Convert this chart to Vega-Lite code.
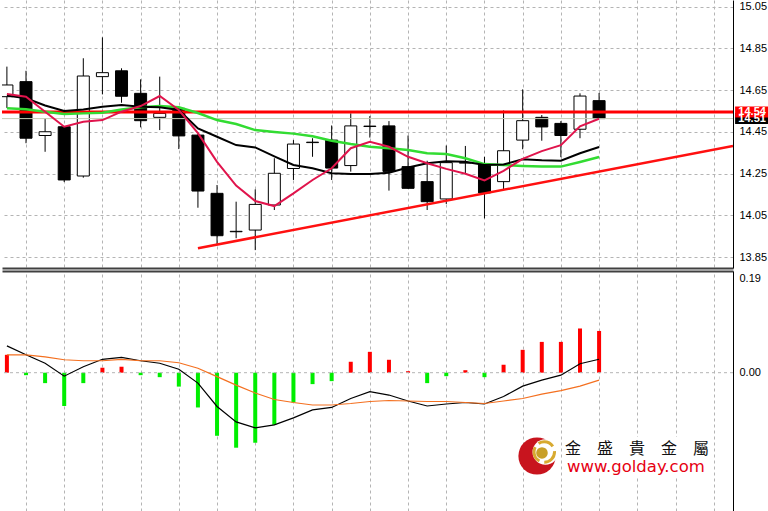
{
  "$schema": "https://vega.github.io/schema/vega-lite/v6.json",
  "padding": 0,
  "spacing": 3,
  "background": "white",
  "config": {
    "view": {"stroke": null},
    "axis": {"labelFont": "Liberation Sans", "labelFontSize": 11, "labelColor": "#000000", "domainColor": "#000000", "domainWidth": 1}
  },
  "datasets": {
    "candles": [
      {"i": 0, "o": 14.619, "h": 14.763, "l": 14.565, "c": 14.675, "ma5": 14.632, "ma10": 14.625, "ma20": 14.563, "macd": 0.054, "sig": 0.036, "hist": 0.036},
      {"i": 1, "o": 14.691, "h": 14.743, "l": 14.396, "c": 14.420, "ma5": 14.619, "ma10": 14.611, "ma20": 14.559, "macd": 0.036, "sig": 0.036, "hist": -0.005},
      {"i": 2, "o": 14.433, "h": 14.515, "l": 14.355, "c": 14.451, "ma5": 14.547, "ma10": 14.577, "ma20": 14.547, "macd": 0.019, "sig": 0.032, "hist": -0.021},
      {"i": 3, "o": 14.475, "h": 14.478, "l": 14.210, "c": 14.220, "ma5": 14.475, "ma10": 14.550, "ma20": 14.536, "macd": -0.007, "sig": 0.026, "hist": -0.067},
      {"i": 4, "o": 14.239, "h": 14.803, "l": 14.231, "c": 14.718, "ma5": 14.499, "ma10": 14.558, "ma20": 14.539, "macd": 0.012, "sig": 0.024, "hist": -0.021},
      {"i": 5, "o": 14.715, "h": 14.903, "l": 14.630, "c": 14.734, "ma5": 14.507, "ma10": 14.571, "ma20": 14.542, "macd": 0.027, "sig": 0.024, "hist": 0.010},
      {"i": 6, "o": 14.743, "h": 14.755, "l": 14.590, "c": 14.621, "ma5": 14.547, "ma10": 14.579, "ma20": 14.558, "macd": 0.031, "sig": 0.027, "hist": 0.012},
      {"i": 7, "o": 14.635, "h": 14.702, "l": 14.472, "c": 14.504, "ma5": 14.574, "ma10": 14.571, "ma20": 14.568, "macd": 0.024, "sig": 0.024, "hist": -0.005},
      {"i": 8, "o": 14.520, "h": 14.715, "l": 14.459, "c": 14.539, "ma5": 14.622, "ma10": 14.568, "ma20": 14.574, "macd": 0.019, "sig": 0.024, "hist": -0.009},
      {"i": 9, "o": 14.563, "h": 14.570, "l": 14.368, "c": 14.431, "ma5": 14.555, "ma10": 14.555, "ma20": 14.568, "macd": 0.007, "sig": 0.020, "hist": -0.028},
      {"i": 10, "o": 14.435, "h": 14.440, "l": 14.087, "c": 14.167, "ma5": 14.444, "ma10": 14.467, "ma20": 14.541, "macd": -0.021, "sig": 0.009, "hist": -0.070},
      {"i": 11, "o": 14.156, "h": 14.196, "l": 13.908, "c": 13.953, "ma5": 14.307, "ma10": 14.427, "ma20": 14.507, "macd": -0.068, "sig": -0.008, "hist": -0.127},
      {"i": 12, "o": 13.972, "h": 14.116, "l": 13.941, "c": 13.974, "ma5": 14.193, "ma10": 14.387, "ma20": 14.488, "macd": -0.099, "sig": -0.025, "hist": -0.151},
      {"i": 13, "o": 13.980, "h": 14.175, "l": 13.884, "c": 14.103, "ma5": 14.119, "ma10": 14.376, "ma20": 14.459, "macd": -0.111, "sig": -0.041, "hist": -0.141},
      {"i": 14, "o": 14.100, "h": 14.324, "l": 14.076, "c": 14.252, "ma5": 14.095, "ma10": 14.333, "ma20": 14.450, "macd": -0.105, "sig": -0.054, "hist": -0.105},
      {"i": 15, "o": 14.275, "h": 14.411, "l": 14.220, "c": 14.392, "ma5": 14.156, "ma10": 14.292, "ma20": 14.442, "macd": -0.091, "sig": -0.060, "hist": -0.060},
      {"i": 16, "o": 14.399, "h": 14.420, "l": 14.331, "c": 14.401, "ma5": 14.220, "ma10": 14.276, "ma20": 14.429, "macd": -0.075, "sig": -0.065, "hist": -0.023},
      {"i": 17, "o": 14.411, "h": 14.481, "l": 14.220, "c": 14.277, "ma5": 14.276, "ma10": 14.252, "ma20": 14.408, "macd": -0.070, "sig": -0.065, "hist": -0.017},
      {"i": 18, "o": 14.289, "h": 14.539, "l": 14.260, "c": 14.479, "ma5": 14.372, "ma10": 14.249, "ma20": 14.392, "macd": -0.052, "sig": -0.062, "hist": 0.022},
      {"i": 19, "o": 14.476, "h": 14.526, "l": 14.423, "c": 14.478, "ma5": 14.403, "ma10": 14.249, "ma20": 14.379, "macd": -0.038, "sig": -0.058, "hist": 0.042},
      {"i": 20, "o": 14.479, "h": 14.502, "l": 14.169, "c": 14.261, "ma5": 14.379, "ma10": 14.255, "ma20": 14.372, "macd": -0.045, "sig": -0.056, "hist": 0.026},
      {"i": 21, "o": 14.284, "h": 14.433, "l": 14.178, "c": 14.180, "ma5": 14.331, "ma10": 14.280, "ma20": 14.364, "macd": -0.057, "sig": -0.057, "hist": 0.003},
      {"i": 22, "o": 14.212, "h": 14.312, "l": 14.076, "c": 14.116, "ma5": 14.300, "ma10": 14.300, "ma20": 14.348, "macd": -0.067, "sig": -0.058, "hist": -0.021},
      {"i": 23, "o": 14.129, "h": 14.385, "l": 14.105, "c": 14.303, "ma5": 14.273, "ma10": 14.310, "ma20": 14.344, "macd": -0.063, "sig": -0.058, "hist": -0.007},
      {"i": 24, "o": 14.301, "h": 14.383, "l": 14.251, "c": 14.303, "ma5": 14.250, "ma10": 14.307, "ma20": 14.324, "macd": -0.060, "sig": -0.060, "hist": 0.005},
      {"i": 25, "o": 14.292, "h": 14.331, "l": 14.036, "c": 14.158, "ma5": 14.218, "ma10": 14.292, "ma20": 14.296, "macd": -0.063, "sig": -0.062, "hist": -0.009},
      {"i": 26, "o": 14.212, "h": 14.553, "l": 14.172, "c": 14.360, "ma5": 14.264, "ma10": 14.294, "ma20": 14.292, "macd": -0.048, "sig": -0.057, "hist": 0.016},
      {"i": 27, "o": 14.411, "h": 14.654, "l": 14.367, "c": 14.504, "ma5": 14.321, "ma10": 14.319, "ma20": 14.287, "macd": -0.027, "sig": -0.052, "hist": 0.046},
      {"i": 28, "o": 14.520, "h": 14.531, "l": 14.408, "c": 14.474, "ma5": 14.358, "ma10": 14.314, "ma20": 14.284, "macd": -0.015, "sig": -0.043, "hist": 0.062},
      {"i": 29, "o": 14.491, "h": 14.502, "l": 14.329, "c": 14.433, "ma5": 14.387, "ma10": 14.312, "ma20": 14.284, "macd": -0.005, "sig": -0.036, "hist": 0.062},
      {"i": 30, "o": 14.463, "h": 14.635, "l": 14.420, "c": 14.622, "ma5": 14.477, "ma10": 14.348, "ma20": 14.306, "macd": 0.018, "sig": -0.027, "hist": 0.089},
      {"i": 31, "o": 14.600, "h": 14.637, "l": 14.514, "c": 14.514, "ma5": 14.513, "ma10": 14.378, "ma20": 14.330, "macd": 0.027, "sig": -0.015, "hist": 0.084}
    ],
    "trend": [
      {"i": 10, "p": 13.893},
      {"i": 38.01, "p": 14.383}
    ],
    "tags": [
      {"label": "14.51", "price": 14.514},
      {"label": "14.54", "price": 14.546}
    ],
    "zero": [{"v": 0}],
    "brand": [{"name": "金　盛　貴　金　屬", "url": "www.golday.com"}]
  },
  "vconcat": [
    {
      "width": 731,
      "height": 268,
      "data": {"name": "candles"},
      "layer": [
        {
          "mark": {"type": "rule", "color": "#000000", "strokeWidth": 1, "clip": true},
          "encoding": {
            "x": {"field": "i", "type": "quantitative",
                  "scale": {"domain": [-0.2565, 38.01], "nice": false, "zero": false, "padding": 0},
                  "axis": {"orient": "bottom", "title": null, "values": [1,3,5,7,9,11,13,15,17,19,21,23,25,27,29,31,33,35,37],
                           "grid": true, "gridDash": [3,3], "gridColor": "#b4b4b4", "labels": false, "ticks": false,
                           "domain": true, "domainColor": "#404040", "domainWidth": 2}},
            "y": {"field": "l", "type": "quantitative",
                  "scale": {"domain": [13.7983, 15.0821], "nice": false, "zero": false, "padding": 0},
                  "axis": {"orient": "right", "title": null, "values": [13.85, 14.05, 14.25, 14.45, 14.65, 14.85, 15.05],
                           "format": ".2f", "grid": true, "gridDash": [3,3], "gridColor": "#b4b4b4",
                           "ticks": false, "labelPadding": 6}},
            "y2": {"field": "h"}
          }
        },
        {
          "mark": {"type": "bar", "width": 12, "stroke": "#000000", "strokeWidth": 1, "clip": true},
          "encoding": {
            "x": {"field": "i", "type": "quantitative"},
            "y": {"field": "o", "type": "quantitative"},
            "y2": {"field": "c"},
            "fill": {"condition": {"test": "datum.c >= datum.o", "value": "#ffffff"}, "value": "#000000"}
          }
        },
        {
          "data": {"name": "tags"},
          "mark": {"type": "rule"},
          "encoding": {
            "y": {"field": "price", "type": "quantitative"},
            "color": {"condition": {"test": "datum.label == '14.54'", "value": "#ff0000"}, "value": "#c4ccb4"},
            "strokeWidth": {"condition": {"test": "datum.label == '14.54'", "value": 3}, "value": 1}
          }
        },
        {
          "mark": {"type": "line", "color": "#32dc32", "strokeWidth": 2.5, "clip": true},
          "encoding": {
            "x": {"field": "i", "type": "quantitative"},
            "y": {"field": "ma20", "type": "quantitative"}
          }
        },
        {
          "mark": {"type": "line", "color": "#000000", "strokeWidth": 2, "clip": true},
          "encoding": {
            "x": {"field": "i", "type": "quantitative"},
            "y": {"field": "ma10", "type": "quantitative"}
          }
        },
        {
          "mark": {"type": "line", "color": "#e0144c", "strokeWidth": 2, "clip": true},
          "encoding": {
            "x": {"field": "i", "type": "quantitative"},
            "y": {"field": "ma5", "type": "quantitative"}
          }
        },
        {
          "data": {"name": "trend"},
          "mark": {"type": "line", "color": "#ff1010", "strokeWidth": 2.5, "clip": true},
          "encoding": {
            "x": {"field": "i", "type": "quantitative"},
            "y": {"field": "p", "type": "quantitative"}
          }
        },
        {
          "data": {"name": "tags"},
          "mark": {"type": "bar", "height": 11, "clip": false},
          "encoding": {
            "x": {"datum": 38.12, "type": "quantitative"},
            "x2": {"datum": 39.9},
            "y": {"field": "price", "type": "quantitative"},
            "fill": {"condition": {"test": "datum.label == '14.54'", "value": "#ff0000"}, "value": "#000000"}
          }
        },
        {
          "data": {"name": "tags"},
          "mark": {"type": "text", "color": "#ffffff", "font": "Liberation Sans", "fontSize": 11, "fontWeight": "bold", "align": "center", "baseline": "middle", "clip": false},
          "encoding": {
            "x": {"datum": 39.01, "type": "quantitative"},
            "y": {"field": "price", "type": "quantitative"},
            "text": {"field": "label"}
          }
        }
      ]
    },
    {
      "width": 731,
      "height": 240,
      "data": {"name": "candles"},
      "layer": [
        {
          "mark": {"type": "bar", "width": 4, "clip": true},
          "encoding": {
            "x": {"field": "i", "type": "quantitative",
                  "scale": {"domain": [-0.2565, 38.01], "nice": false, "zero": false, "padding": 0},
                  "axis": {"orient": "top", "title": null, "values": [1,3,5,7,9,11,13,15,17,19,21,23,25,27,29,31,33,35,37],
                           "grid": true, "gridDash": [3,3], "gridColor": "#b4b4b4", "labels": false, "ticks": false,
                           "domain": true, "domainColor": "#404040", "domainWidth": 2}},
            "y": {"field": "hist", "type": "quantitative",
                  "scale": {"domain": [-0.2784, 0.2047], "nice": false, "zero": false, "padding": 0},
                  "axis": {"orient": "right", "title": null, "values": [0.19, 0], "format": ".2f", "grid": false, "ticks": false, "labelPadding": 6}},
            "y2": {"datum": 0},
            "fill": {"condition": {"test": "datum.hist > 0", "value": "#ff0000"}, "value": "#00ee00"}
          }
        },
        {
          "data": {"name": "zero"},
          "mark": {"type": "rule", "color": "#b4b4b4", "strokeDash": [3,3], "strokeWidth": 1},
          "encoding": {
            "y": {"field": "v", "type": "quantitative"}
          }
        },
        {
          "mark": {"type": "line", "color": "#000000", "strokeWidth": 1.2, "clip": true},
          "encoding": {
            "x": {"field": "i", "type": "quantitative"},
            "y": {"field": "macd", "type": "quantitative"}
          }
        },
        {
          "mark": {"type": "line", "color": "#f47020", "strokeWidth": 1.2, "clip": true},
          "encoding": {
            "x": {"field": "i", "type": "quantitative"},
            "y": {"field": "sig", "type": "quantitative"}
          }
        },
        {
          "data": {"name": "brand"},
          "mark": {"type": "rect", "fill": "#ffffff"},
          "encoding": {
            "x": {"datum": 29.06, "type": "quantitative"},
            "x2": {"datum": 36.91},
            "y": {"datum": -0.1294, "type": "quantitative"},
            "y2": {"datum": -0.2120}
          }
        },
        {
          "data": {"name": "brand"},
          "mark": {"type": "circle", "size": 1385, "fill": "#c8141e", "opacity": 1},
          "encoding": {
            "x": {"datum": 27.75, "type": "quantitative"},
            "y": {"datum": -0.1677, "type": "quantitative"}
          }
        },
        {
          "data": {"name": "brand"},
          "mark": {"type": "circle", "size": 660, "fill": "#ffffff", "opacity": 1},
          "encoding": {
            "x": {"datum": 28.19, "type": "quantitative"},
            "y": {"datum": -0.1596, "type": "quantitative"}
          }
        },
        {
          "data": {"name": "brand"},
          "mark": {"type": "point", "shape": "circle", "size": 420, "filled": false, "stroke": "#d8aa30", "strokeWidth": 3, "strokeDash": [16, 5], "opacity": 1},
          "encoding": {
            "x": {"datum": 28.13, "type": "quantitative"},
            "y": {"datum": -0.1596, "type": "quantitative"}
          }
        },
        {
          "data": {"name": "brand"},
          "mark": {"type": "circle", "size": 135, "fill": "#c8a028", "opacity": 1},
          "encoding": {
            "x": {"datum": 28.01, "type": "quantitative"},
            "y": {"datum": -0.1616, "type": "quantitative"}
          }
        },
        {
          "data": {"name": "brand"},
          "mark": {"type": "text", "font": "Noto Sans CJK TC", "fontSize": 16, "color": "#111111", "align": "left", "baseline": "middle"},
          "encoding": {
            "x": {"datum": 29.22, "type": "quantitative"},
            "y": {"datum": -0.1536, "type": "quantitative"},
            "text": {"field": "name"}
          }
        },
        {
          "data": {"name": "brand"},
          "mark": {"type": "text", "font": "DejaVu Sans", "fontSize": 16.5, "color": "#e60012", "align": "left", "baseline": "alphabetic"},
          "encoding": {
            "x": {"datum": 29.32, "type": "quantitative"},
            "y": {"datum": -0.1989, "type": "quantitative"},
            "text": {"field": "url"}
          }
        }
      ]
    }
  ]
}
